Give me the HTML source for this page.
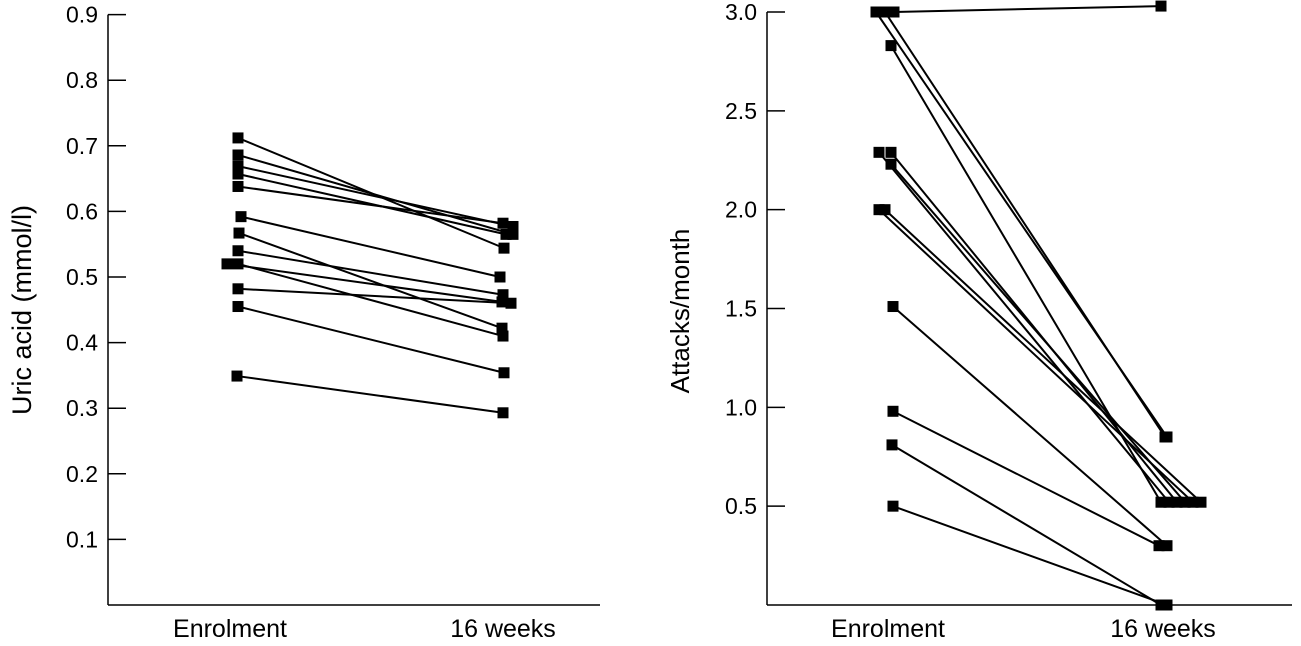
<!DOCTYPE html>
<html><head><meta charset="utf-8"><style>
html,body{margin:0;padding:0;background:#fff;}
svg{display:block;font-family:"Liberation Sans",Arial,sans-serif;}
</style></head><body>
<svg id="c" width="1301" height="646" viewBox="0 0 1301 646" xmlns="http://www.w3.org/2000/svg"></svg>
<script>
const categories = ["Enrolment", "16 weeks"];
const uricTicks = [0.1,0.2,0.3,0.4,0.5,0.6,0.7,0.8,0.9];
const uricStart = [0.712,0.686,0.669,0.657,0.638,0.592,0.567,0.540,0.520,0.520,0.482,0.455,0.349];
const uricEnd   = [0.544,0.565,0.577,0.565,0.582,0.500,0.422,0.473,0.410,0.462,0.460,0.354,0.293];
const uricJitterStart = [0,0,0,0,0,3,1,0,0,-11,0,0,-1];
const uricJitterEnd   = [1,10,10,3,0,-3,-1,0,0,-1,8,1,0];
const attackTicks = [0.5,1.0,1.5,2.0,2.5,3.0];
const attackStart = [3.0,3.0,3.0,2.83,2.29,2.29,2.23,2.0,2.0,1.51,0.98,0.81,0.5];
const attackEnd   = [3.03,0.85,0.85,0.52,0.52,0.52,0.52,0.52,0.52,0.30,0.30,0.0,0.0];
const attackJitterStart = [9,-9,0,6,-6,6,6,-6,0,8,8,7,8];
const attackJitterEnd   = [-4,2,0,-4,4,12,20,28,36,2,-6,-4,2];

const NS="http://www.w3.org/2000/svg";
const svg=document.getElementById('c');
function mk(t,a){const e=document.createElementNS(NS,t);for(const k in a)e.setAttribute(k,a[k]);svg.appendChild(e);return e;}

function panel(p){
  const y=v=>p.y0-(v-0)*(p.y0-p.yTop)/(p.vTop);
  const x=i=>p.cx[i];
  let e=mk('line',{x1:p.ax,y1:p.yTop,x2:p.ax,y2:p.y0,stroke:'#000','stroke-width':1.5});
  
  
  e=mk('line',{x1:p.ax,y1:p.y0,x2:p.xEnd,y2:p.y0,stroke:'#000','stroke-width':1.5});
  
  
  p.ticks.forEach(t=>{
    e=mk('line',{x1:p.ax,y1:y(t),x2:p.ax+18,y2:y(t),stroke:'#000','stroke-width':1.5});
    
    
    e=mk('text',{x:p.ax-10,y:y(t)+8,'text-anchor':'end','font-size':23});
    e.textContent=t.toFixed(1);
    
    
  });
  categories.forEach((c,i)=>{
    e=mk('text',{x:x(i)+p.lx[i],y:637,'text-anchor':'middle','font-size':25});
    e.textContent=c;
    
    
  });
  e=mk('text',{x:0,y:0,'text-anchor':'middle','font-size':p.titleSize,transform:`translate(${p.titleX},${p.titleY}) rotate(-90)`});
  e.textContent=p.title;
  
  
  p.s.forEach((v,k)=>{
    const x1=x(0)+p.js[k],y1=y(v),x2=x(1)+p.je[k],y2=y(p.e[k]);
    e=mk('line',{x1,y1,x2,y2,stroke:'#000','stroke-width':2});
    
    
  });
  p.s.forEach((v,k)=>{
    e=mk('rect',{x:x(0)+p.js[k]-5.5,y:y(v)-5.5,width:11,height:11,fill:'#000'});
    
    
    e=mk('rect',{x:x(1)+p.je[k]-5.5,y:y(p.e[k])-5.5,width:11,height:11,fill:'#000'});
    
    
  });
}
panel({id:'uric',ax:108,xEnd:600,y0:605,yTop:14.6,vTop:0.9,cx:[238,503],lx:[-8,0],ticks:uricTicks,
  s:uricStart,e:uricEnd,js:uricJitterStart,je:uricJitterEnd,title:'Uric acid (mmol/l)',titleSize:27,titleX:31,titleY:310});
panel({id:'attacks',ax:767,xEnd:1292,y0:605,yTop:12,vTop:3.0,cx:[885,1165],lx:[3,-2],ticks:attackTicks,
  s:attackStart,e:attackEnd,js:attackJitterStart,je:attackJitterEnd,title:'Attacks/month',titleSize:26,titleX:689,titleY:311});
</script>
</body></html>
